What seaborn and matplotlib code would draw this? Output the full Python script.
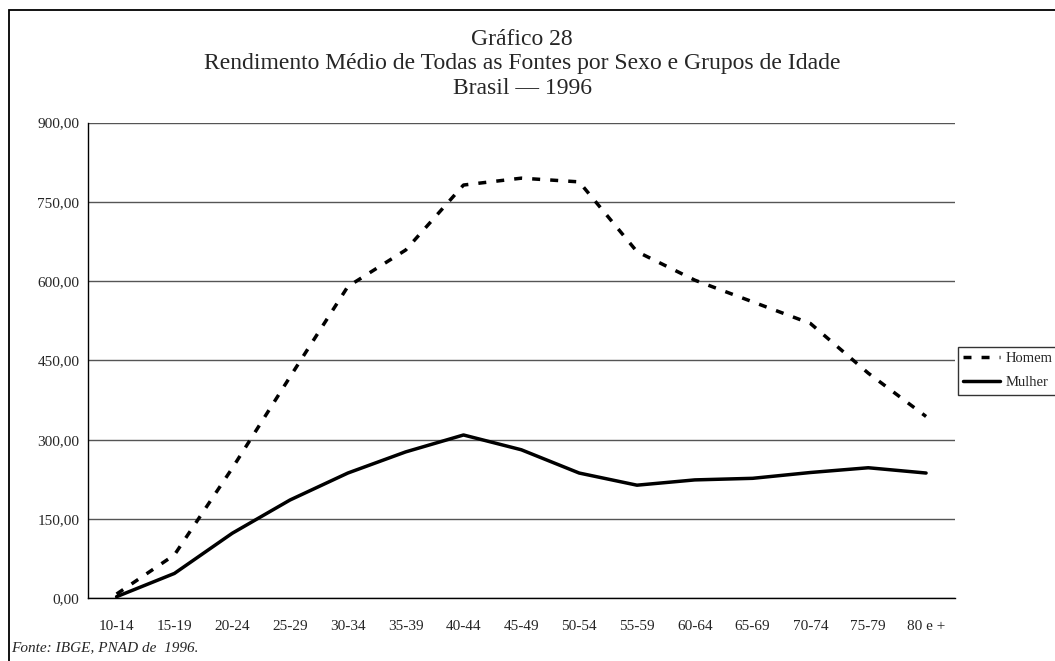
import matplotlib
matplotlib.use("Agg")
import matplotlib.pyplot as plt
from matplotlib.lines import Line2D
from matplotlib.patches import Rectangle
from matplotlib.ticker import FuncFormatter, FixedLocator
import pandas as pd
import seaborn as sns

idades = ["10-14", "15-19", "20-24", "25-29", "30-34", "35-39", "40-44", "45-49",
          "50-54", "55-59", "60-64", "65-69", "70-74", "75-79", "80 e +"]
homem = [8, 82, 246, 419, 590, 659, 782, 795, 788, 656, 602, 561, 520, 426, 344]
mulher = [3, 47, 123, 186, 237, 277, 309, 281, 237, 214, 224, 227, 238, 247, 237]
y_ticks = [0, 150, 300, 450, 600, 750, 900]

df = pd.DataFrame({
    "Idade": idades * 2,
    "Sexo": ["Homem"] * len(idades) + ["Mulher"] * len(idades),
    "Rendimento": homem + mulher,
})

sns.set_style("white")
plt.rcParams["font.family"] = ["Liberation Serif", "DejaVu Serif"]

fig = plt.figure(figsize=(10.55, 6.61), dpi=100)
ax = fig.add_axes([0.0831, 0.0949, 0.8221, 0.7195])

estilos = {"Homem": (2.3, 2.9), "Mulher": ""}
sns.lineplot(data=df, x="Idade", y="Rendimento", hue="Sexo", style="Sexo",
             palette=["black", "black"], dashes=estilos, sort=False,
             linewidth=2.5, legend=False, ax=ax)

ax.set_xlim(-0.5, len(idades) - 0.5)
ax.set_ylim(0, 900)
ax.set_yticks(y_ticks)
ax.yaxis.set_major_formatter(FuncFormatter(lambda v, p: f"{v:.2f}".replace(".", ",")))
ax.set_xticks(range(len(idades)))
ax.set_xticklabels(idades)
ax.xaxis.set_minor_locator(FixedLocator([i - 0.5 for i in range(len(idades) + 1)]))
ax.tick_params(axis="x", which="major", length=0, pad=16, labelsize=11)
ax.tick_params(axis="x", which="minor", length=5, width=1, color="black", direction="out")
ax.tick_params(axis="y", length=4, width=1, color="black", direction="out", labelsize=11, pad=2)
ax.set_xlabel("")
ax.set_ylabel("")

ax.grid(axis="y", color="#555555", linewidth=1)
ax.set_axisbelow(True)
for lado in ["top", "right"]:
    ax.spines[lado].set_visible(False)
for lado in ["left", "bottom"]:
    ax.spines[lado].set_color("black")
    ax.spines[lado].set_linewidth(1)

handles = [Line2D([], [], color="black", lw=2.5, dashes=(2.3, 2.9)),
           Line2D([], [], color="black", lw=2.5)]
leg = fig.legend(handles, ["Homem", "Mulher"], loc="upper left",
                 bbox_to_anchor=(0.908, 0.475), bbox_transform=fig.transFigure,
                 fontsize=10.5, frameon=True, fancybox=False, edgecolor="black",
                 handlelength=2.5, borderpad=0.35, labelspacing=0.75, handletextpad=0.4,
                 borderaxespad=0)
leg.get_frame().set_linewidth(1)

fig.text(0.495, 0.9395, "Gráfico 28", ha="center", va="center", fontsize=17)
fig.text(0.495, 0.9032, "Rendimento Médio de Todas as Fontes por Sexo e Grupos de Idade",
         ha="center", va="center", fontsize=17)
fig.text(0.495, 0.8654, "Brasil — 1996", ha="center", va="center", fontsize=17)
fig.text(0.0105, 0.02, "Fonte: IBGE, PNAD de  1996.", ha="left", va="center",
         fontsize=11, style="italic")

fig.patches.append(Rectangle((0.0085, -0.1), 1.5, 1.085, transform=fig.transFigure,
                             fill=False, edgecolor="black", linewidth=1.3))

fig.savefig("out.png", dpi=100)
